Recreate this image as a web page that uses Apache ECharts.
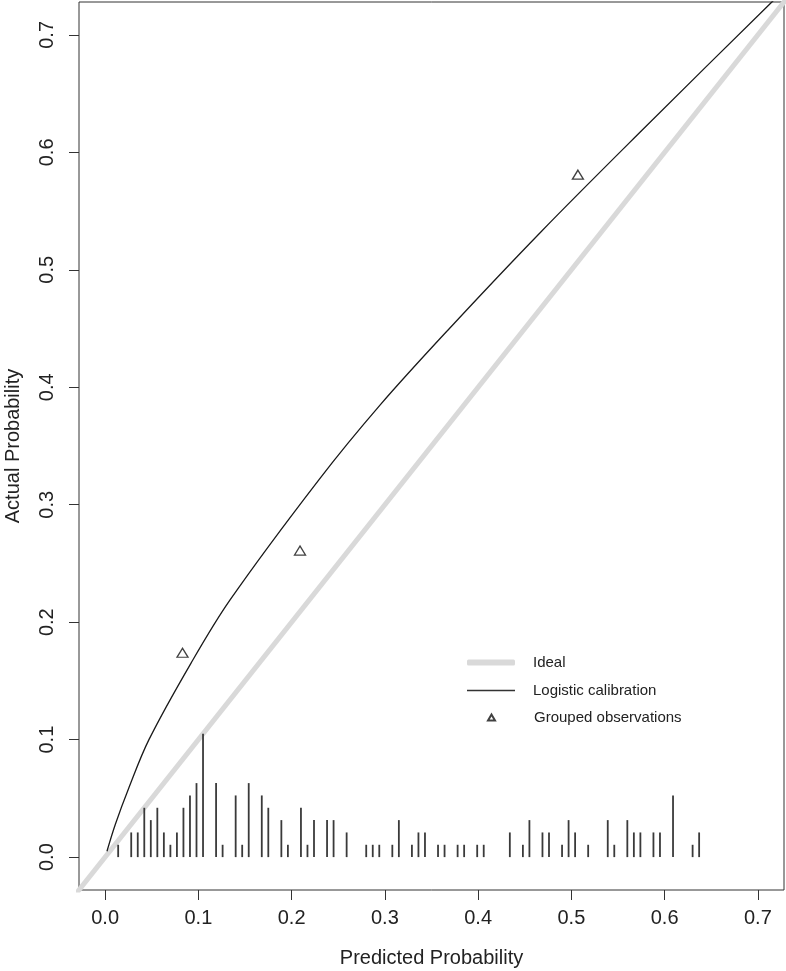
<!DOCTYPE html>
<html>
<head>
<meta charset="utf-8">
<script src="https://cdn.jsdelivr.net/npm/echarts@6/dist/echarts.min.js"></script>
<style>
  html, body { margin: 0; padding: 0; background: #fff; }
  #chart { width: 786px; height: 971px; }
</style>
</head>
<body>
<div id="chart"></div>
<script>
// axis ticks (both axes run 0..0.7 with R's 4% padding)
const xTicks = [0, 0.1, 0.2, 0.3, 0.4, 0.5, 0.6, 0.7];
const yTicks = [0, 0.1, 0.2, 0.3, 0.4, 0.5, 0.6, 0.7];
const axisMin = -0.028;
const axisMax = 0.728;

// ideal 45 degree line
const idealX = [-0.05, 0.75];
const idealY = [-0.05, 0.75];

// logistic calibration curve
const calX = [0.002, 0.011, 0.025, 0.047, 0.092, 0.134, 0.229, 0.295, 0.368, 0.467, 0.576, 0.715, 0.73];
const calY = [0.005, 0.028, 0.058, 0.100, 0.165, 0.219, 0.321, 0.385, 0.449, 0.532, 0.619, 0.728, 0.739];

// grouped observations (triangles)
const groupX = [0.083, 0.209, 0.507];
const groupY = [0.174, 0.261, 0.581];

// spike histogram of predicted probabilities
const spikeX = [0.014, 0.028, 0.035, 0.042, 0.049, 0.056, 0.063, 0.070, 0.077, 0.084,
  0.091, 0.098, 0.105, 0.119, 0.126, 0.140, 0.147, 0.154, 0.168, 0.175,
  0.189, 0.196, 0.210, 0.217, 0.224, 0.238, 0.245, 0.259, 0.280, 0.287,
  0.294, 0.308, 0.315, 0.329, 0.336, 0.343, 0.357, 0.364, 0.378, 0.385,
  0.399, 0.406, 0.434, 0.448, 0.455, 0.469, 0.476, 0.490, 0.497, 0.504,
  0.518, 0.539, 0.546, 0.560, 0.567, 0.574, 0.588, 0.595, 0.609, 0.630, 0.637];
const spikeCount = [1, 2, 2, 4, 3, 4, 2, 1, 2, 4,
  5, 6, 10, 6, 1, 5, 1, 6, 5, 4,
  3, 1, 4, 1, 3, 3, 3, 2, 1, 1,
  1, 1, 3, 1, 2, 2, 1, 1, 1, 1,
  1, 1, 2, 1, 3, 2, 2, 1, 3, 2,
  1, 3, 1, 3, 2, 2, 2, 2, 5, 1, 2];
const spikeUnit = 0.0105; // height of one count, in y units

const FONT = "Liberation Sans";
const chart = echarts.init(document.getElementById("chart"));

const zip = (a, b) => a.map((v, i) => [v, b[i]]);

function legendBox(left, top, name, icon, w, h, pad) {
  return {
    left: left, top: top, orient: "vertical",
    itemWidth: w, itemHeight: h,
    textStyle: { fontFamily: FONT, fontSize: 15, color: "#222", lineHeight: 15, padding: [0, 0, 0, pad] },
    data: [{ name: name, icon: icon }],
    selectedMode: false,
  };
}

chart.setOption({
  animation: false,
  backgroundColor: "#fff",
  textStyle: { fontFamily: FONT },
  grid: {
    left: 79, right: 2, top: 2, bottom: 81,
    outerBoundsMode: "none",
    show: true, borderColor: "#333", borderWidth: 1, backgroundColor: "transparent",
  },
  legend: [
    legendBox(462, 650, "Ideal", "roundRect", 48, 6, 13),
    legendBox(462, 678, "Logistic calibration", "rect", 48, 1.4, 13),
    legendBox(482, 705, "Grouped observations", "triangle", 7, 6, 34),
  ],
  xAxis: {
    type: "value", min: axisMin, max: axisMax,
    name: "Predicted Probability", nameLocation: "middle", nameGap: 58,
    nameTextStyle: { fontFamily: FONT, fontSize: 20, color: "#222" },
    axisLine: { show: false, onZero: false },
    axisTick: { show: true, length: 10, customValues: xTicks, lineStyle: { color: "#333" } },
    axisLabel: {
      customValues: xTicks, margin: 18, fontSize: 20, color: "#222", fontFamily: FONT,
      formatter: (v) => v.toFixed(1),
    },
    splitLine: { show: false },
  },
  yAxis: {
    type: "value", min: axisMin, max: axisMax,
    name: "Actual Probability", nameLocation: "middle", nameGap: 56,
    nameTextStyle: { fontFamily: FONT, fontSize: 20, color: "#222" },
    axisLine: { show: false, onZero: false },
    axisTick: { show: true, length: 10, customValues: yTicks, lineStyle: { color: "#333" } },
    axisLabel: {
      customValues: yTicks, margin: 22, rotate: 90, fontSize: 20, color: "#222", fontFamily: FONT,
      formatter: (v) => v.toFixed(1),
    },
    splitLine: { show: false },
  },
  series: [
    {
      name: "Ideal", type: "line", data: zip(idealX, idealY),
      symbol: "none", clip: true,
      lineStyle: { color: "#d9d9d9", width: 5 },
      itemStyle: { color: "#d9d9d9" },
      z: 2,
    },
    {
      name: "Logistic calibration", type: "line", data: zip(calX, calY),
      symbol: "none", smooth: 0.35, clip: true,
      lineStyle: { color: "#1a1a1a", width: 1.3 },
      itemStyle: { color: "#333" },
      z: 3,
    },
    {
      name: "Grouped observations", type: "scatter", data: zip(groupX, groupY),
      symbol: "triangle", symbolSize: [11, 9],
      itemStyle: { color: "rgba(255,255,255,0)", borderColor: "#111", borderWidth: 1.3 },
      z: 4,
    },
    {
      name: "spikes", type: "custom", data: zip(spikeX, spikeCount.map((c) => c * spikeUnit)),
      renderItem: (params, api) => {
        const p0 = api.coord([api.value(0), 0]);
        const p1 = api.coord([api.value(0), api.value(1)]);
        return {
          type: "line",
          shape: { x1: p0[0], y1: p0[1], x2: p1[0], y2: p1[1] },
          style: { stroke: "#3a3a3a", lineWidth: 1.8 },
        };
      },
      z: 3,
    },
  ],
});
</script>
</body>
</html>
